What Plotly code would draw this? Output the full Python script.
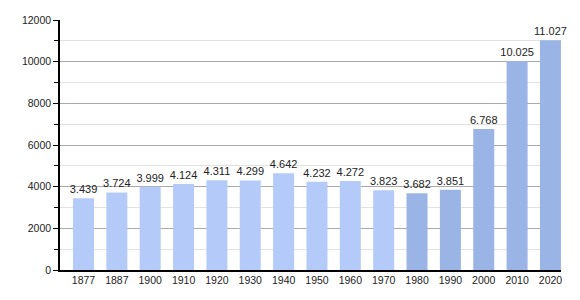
import plotly.graph_objects as go

years = ["1877", "1887", "1900", "1910", "1920", "1930", "1940", "1950",
         "1960", "1970", "1980", "1990", "2000", "2010", "2020"]
population = [3439, 3724, 3999, 4124, 4311, 4299, 4642, 4232,
              4272, 3823, 3682, 3851, 6768, 10025, 11027]
light_color = "#b4cbfa"
dark_color = "#9bb4e6"
colors = [light_color if int(y) < 1980 else dark_color for y in years]
labels = [f"{v:,}".replace(",", ".") for v in population]

fig = go.Figure(go.Bar(
    x=years, y=population, width=0.63,
    marker=dict(color=colors, line=dict(width=0)),
    text=labels, textposition="outside", cliponaxis=False,
    constraintext="none",
    textfont=dict(family="Liberation Sans, Arial", size=11, color="#222"),
))

fig.update_layout(
    width=580, height=300,
    margin=dict(l=60, r=19, t=20, b=30),
    plot_bgcolor="white", paper_bgcolor="white",
    showlegend=False,
    font=dict(family="Liberation Sans, Arial", size=10.5, color="#222"),
    xaxis=dict(
        type="category", range=[-0.704, 14.316],
        showline=True, linecolor="black", linewidth=1.5,
        ticks="", showgrid=False, tickfont=dict(size=10.5),
    ),
    yaxis=dict(
        range=[0, 12000], tickvals=[0, 2000, 4000, 6000, 8000, 10000, 12000],
        ticktext=["0", "2000", "4000", "6000", "8000", "10000", "12000"],
        showline=True, linecolor="black", linewidth=1.5,
        ticks="outside", ticklen=5, tickcolor="black",
        showgrid=True, gridcolor="#aaaaaa", gridwidth=1,
        zeroline=False, tickfont=dict(size=10.5),
        minor=dict(dtick=1000, tick0=0, showgrid=True, gridcolor="#e2e2e2",
                   ticks="outside", ticklen=4, tickcolor="black"),
    ),
)

fig.write_html("out.html")
